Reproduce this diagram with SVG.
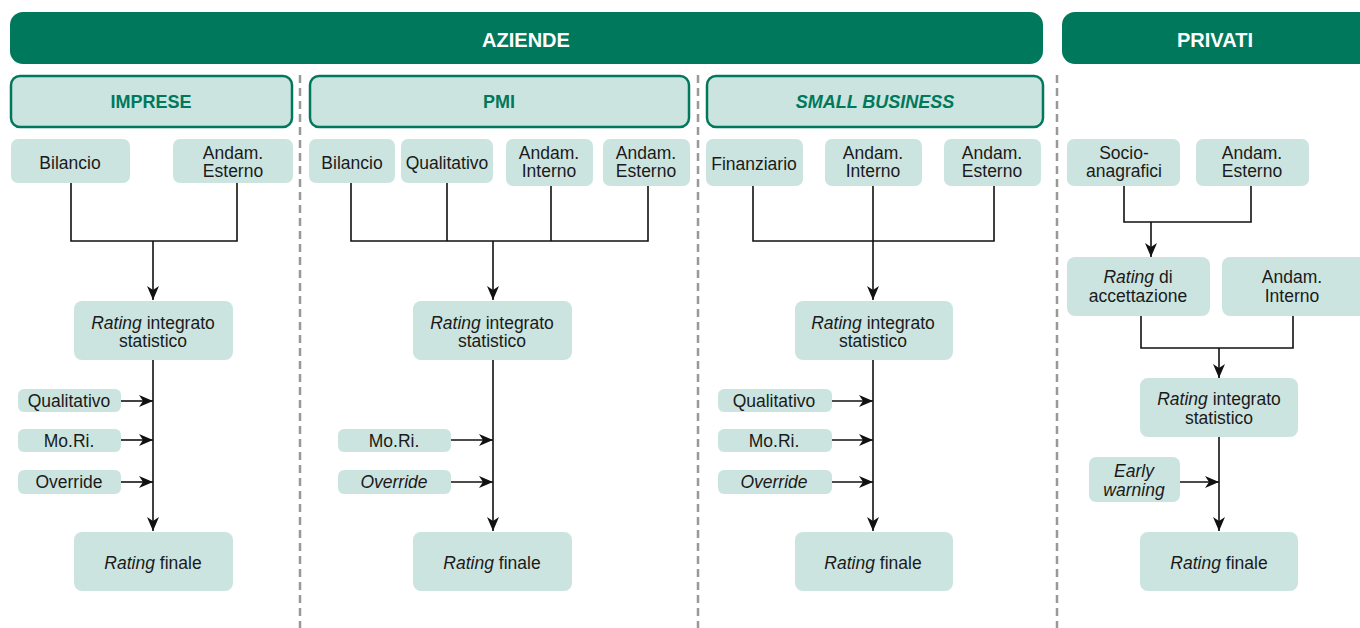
<svg xmlns="http://www.w3.org/2000/svg" width="1360" height="628" viewBox="0 0 1360 628">
<defs>
<marker id="ah" viewBox="0 0 14 12" refX="14" refY="6" markerWidth="14" markerHeight="12" markerUnits="userSpaceOnUse" orient="auto">
<path d="M0,0 L14,6 L0,12 L4,6 Z" fill="#111"/>
</marker>
<style>
.bar{fill:#00785c}
.sub{fill:#cce4df;stroke:#00785c;stroke-width:2.5}
.box{fill:#cce4df}
.hd{font-family:"Liberation Sans",Arial,sans-serif;font-weight:bold;font-size:20px;fill:#fff;text-anchor:middle}
.sh{font-family:"Liberation Sans",Arial,sans-serif;font-weight:bold;font-size:18px;fill:#00785c;text-anchor:middle}
.t{font-family:"Liberation Sans",Arial,sans-serif;font-size:17.5px;fill:#1a1a1a;text-anchor:middle}
.ln{fill:none;stroke:#111;stroke-width:1.6}
.dash{stroke:#999;stroke-width:2.5;stroke-dasharray:8 5}
</style>
</defs>
<rect width="1360" height="628" fill="#fff"/>
<g id="dividers">
<line class="dash" x1="300" y1="75" x2="300" y2="628"/>
<line class="dash" x1="698" y1="75" x2="698" y2="628"/>
<line class="dash" x1="1057" y1="75" x2="1057" y2="628"/>
</g>
<g id="aziende"><rect class="bar" x="10" y="12" width="1033" height="52" rx="13"/><text class="hd" x="526" y="47">AZIENDE</text></g>
<g id="privati"><rect class="bar" x="1062" y="12" width="310" height="52" rx="13"/><text class="hd" x="1215" y="47">PRIVATI</text></g>
<g id="imprese"><rect class="sub" x="11" y="76" width="281" height="51" rx="9"/><text class="sh" x="151" y="108">IMPRESE</text></g>
<g id="pmi"><rect class="sub" x="310" y="76" width="379" height="51" rx="9"/><text class="sh" x="499" y="108">PMI</text></g>
<g id="smallbusiness"><rect class="sub" x="707" y="76" width="336" height="51" rx="9"/><text class="sh" x="875" y="108" font-style="italic">SMALL BUSINESS</text></g>

<g id="connectors">
<path class="ln" d="M71,183 V241 H237 V183"/>
<path class="ln" d="M153,241 V300" marker-end="url(#ah)"/>
<path class="ln" d="M153,360 V531" marker-end="url(#ah)"/>
<path class="ln" d="M121,401 H153" marker-end="url(#ah)"/>
<path class="ln" d="M121,440 H153" marker-end="url(#ah)"/>
<path class="ln" d="M121,482 H153" marker-end="url(#ah)"/>

<path class="ln" d="M351,183 V241 H648 V186 M447,183 V241 M551,186 V241"/>
<path class="ln" d="M493,241 V300" marker-end="url(#ah)"/>
<path class="ln" d="M493,360 V531" marker-end="url(#ah)"/>
<path class="ln" d="M451,440 H493" marker-end="url(#ah)"/>
<path class="ln" d="M451,482 H493" marker-end="url(#ah)"/>

<path class="ln" d="M753,186 V241 H994 V186 M873,186 V241"/>
<path class="ln" d="M873,241 V300" marker-end="url(#ah)"/>
<path class="ln" d="M873,360 V531" marker-end="url(#ah)"/>
<path class="ln" d="M832,401 H873" marker-end="url(#ah)"/>
<path class="ln" d="M832,440 H873" marker-end="url(#ah)"/>
<path class="ln" d="M832,482 H873" marker-end="url(#ah)"/>

<path class="ln" d="M1124,186 V222 H1251 V186"/>
<path class="ln" d="M1151,222 V257" marker-end="url(#ah)"/>
<path class="ln" d="M1141,316 V348 H1293 V316"/>
<path class="ln" d="M1219,348 V378" marker-end="url(#ah)"/>
<path class="ln" d="M1219,437 V531" marker-end="url(#ah)"/>
<path class="ln" d="M1180,482 H1219" marker-end="url(#ah)"/>
</g>

<!-- IMPRESE -->
<g id="imp-bilancio"><rect class="box" x="11" y="139" width="119" height="44" rx="7"/><text class="t" x="70" y="169">Bilancio</text></g>
<g id="imp-esterno"><rect class="box" x="173" y="139" width="120" height="44" rx="7"/><text class="t" x="233" y="159">Andam.</text><text class="t" x="233" y="177">Esterno</text></g>
<g id="imp-integrato"><rect class="box" x="74" y="301" width="159" height="59" rx="8"/><text class="t" x="153" y="329"><tspan font-style="italic">Rating</tspan> integrato</text><text class="t" x="153" y="347">statistico</text></g>
<g id="imp-qualitativo"><rect class="box" x="18" y="389" width="103" height="23" rx="6"/><text class="t" x="69" y="407">Qualitativo</text></g>
<g id="imp-mori"><rect class="box" x="18" y="429" width="103" height="23" rx="6"/><text class="t" x="69" y="447">Mo.Ri.</text></g>
<g id="imp-override"><rect class="box" x="18" y="470" width="103" height="24" rx="6"/><text class="t" x="69" y="488">Override</text></g>
<g id="imp-finale"><rect class="box" x="74" y="532" width="159" height="59" rx="8"/><text class="t" x="153" y="569"><tspan font-style="italic">Rating</tspan> finale</text></g>

<!-- PMI -->
<g id="pmi-bilancio"><rect class="box" x="309" y="139" width="86" height="44" rx="7"/><text class="t" x="352" y="169">Bilancio</text></g>
<g id="pmi-qualitativo"><rect class="box" x="401" y="139" width="92" height="44" rx="7"/><text class="t" x="447" y="169">Qualitativo</text></g>
<g id="pmi-interno"><rect class="box" x="506" y="139" width="87" height="47" rx="7"/><text class="t" x="549" y="159">Andam.</text><text class="t" x="549" y="177">Interno</text></g>
<g id="pmi-esterno"><rect class="box" x="603" y="139" width="87" height="47" rx="7"/><text class="t" x="646" y="159">Andam.</text><text class="t" x="646" y="177">Esterno</text></g>
<g id="pmi-integrato"><rect class="box" x="413" y="301" width="159" height="59" rx="8"/><text class="t" x="492" y="329"><tspan font-style="italic">Rating</tspan> integrato</text><text class="t" x="492" y="347">statistico</text></g>
<g id="pmi-mori"><rect class="box" x="338" y="429" width="113" height="23" rx="6"/><text class="t" x="394" y="447">Mo.Ri.</text></g>
<g id="pmi-override"><rect class="box" x="338" y="470" width="113" height="24" rx="6"/><text class="t" x="394" y="488" font-style="italic">Override</text></g>
<g id="pmi-finale"><rect class="box" x="413" y="532" width="159" height="59" rx="8"/><text class="t" x="492" y="569"><tspan font-style="italic">Rating</tspan> finale</text></g>

<!-- SMALL BUSINESS -->
<g id="sb-finanziario"><rect class="box" x="706" y="139" width="97" height="47" rx="7"/><text class="t" x="754" y="170">Finanziario</text></g>
<g id="sb-interno"><rect class="box" x="825" y="139" width="97" height="47" rx="7"/><text class="t" x="873" y="159">Andam.</text><text class="t" x="873" y="177">Interno</text></g>
<g id="sb-esterno"><rect class="box" x="944" y="139" width="97" height="47" rx="7"/><text class="t" x="992" y="159">Andam.</text><text class="t" x="992" y="177">Esterno</text></g>
<g id="sb-integrato"><rect class="box" x="795" y="301" width="158" height="59" rx="8"/><text class="t" x="873" y="329"><tspan font-style="italic">Rating</tspan> integrato</text><text class="t" x="873" y="347">statistico</text></g>
<g id="sb-qualitativo"><rect class="box" x="718" y="389" width="114" height="23" rx="6"/><text class="t" x="774" y="407">Qualitativo</text></g>
<g id="sb-mori"><rect class="box" x="718" y="429" width="114" height="23" rx="6"/><text class="t" x="774" y="447">Mo.Ri.</text></g>
<g id="sb-override"><rect class="box" x="718" y="470" width="114" height="24" rx="6"/><text class="t" x="774" y="488" font-style="italic">Override</text></g>
<g id="sb-finale"><rect class="box" x="795" y="532" width="158" height="59" rx="8"/><text class="t" x="873" y="569"><tspan font-style="italic">Rating</tspan> finale</text></g>

<!-- PRIVATI -->
<g id="pr-socio"><rect class="box" x="1067" y="139" width="113" height="47" rx="7"/><text class="t" x="1124" y="159">Socio-</text><text class="t" x="1124" y="177">anagrafici</text></g>
<g id="pr-esterno"><rect class="box" x="1196" y="139" width="113" height="47" rx="7"/><text class="t" x="1252" y="159">Andam.</text><text class="t" x="1252" y="177">Esterno</text></g>
<g id="pr-accettazione"><rect class="box" x="1067" y="257" width="143" height="59" rx="8"/><text class="t" x="1138" y="283"><tspan font-style="italic">Rating</tspan> di</text><text class="t" x="1138" y="302">accettazione</text></g>
<g id="pr-interno"><rect class="box" x="1222" y="257" width="146" height="59" rx="8"/><text class="t" x="1292" y="283">Andam.</text><text class="t" x="1292" y="302">Interno</text></g>
<g id="pr-integrato"><rect class="box" x="1140" y="378" width="158" height="59" rx="8"/><text class="t" x="1219" y="405"><tspan font-style="italic">Rating</tspan> integrato</text><text class="t" x="1219" y="424">statistico</text></g>
<g id="pr-early"><rect class="box" x="1089" y="457" width="91" height="45" rx="7"/><text class="t" x="1134" y="477" font-style="italic">Early</text><text class="t" x="1134" y="496" font-style="italic">warning</text></g>
<g id="pr-finale"><rect class="box" x="1140" y="532" width="158" height="59" rx="8"/><text class="t" x="1219" y="569"><tspan font-style="italic">Rating</tspan> finale</text></g>
</svg>
